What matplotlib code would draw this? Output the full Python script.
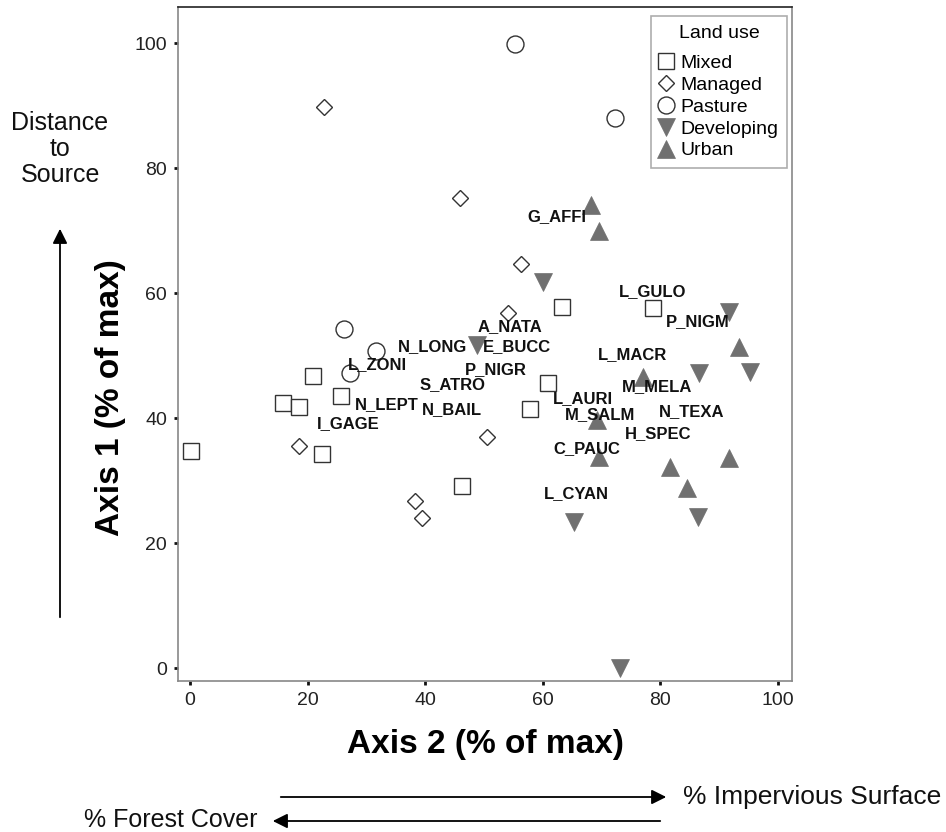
import matplotlib
matplotlib.use("Agg")
import matplotlib.pyplot as plt

plt.rcParams['font.family'] = ['Liberation Sans', 'DejaVu Sans']

# ---- data (Axis 2, Axis 1) ----
mixed_x = [0.2, 15.8, 18.5, 20.9, 25.7, 22.4, 46.3, 57.8, 60.9, 63.3, 78.8]
mixed_y = [34.7, 42.4, 41.8, 46.7, 43.5, 34.2, 29.1, 41.4, 45.6, 57.8, 57.7]

managed_x = [22.8, 45.9, 56.3, 54.1, 50.5, 18.5, 38.3, 39.5]
managed_y = [89.8, 75.2, 64.6, 56.8, 36.9, 35.5, 26.7, 24.0]

pasture_x = [55.3, 72.3, 26.2, 31.6, 27.2]
pasture_y = [99.9, 88.0, 54.2, 50.7, 47.2]

developing_x = [60.0, 48.8, 91.7, 95.2, 86.6, 86.4, 65.3, 73.2]
developing_y = [61.8, 51.7, 57.0, 47.4, 47.2, 24.2, 23.4, 0.0]

urban_x = [68.2, 69.6, 93.3, 77.0, 69.2, 69.6, 81.6, 91.7, 84.5]
urban_y = [74.1, 70.0, 51.4, 46.6, 39.7, 33.8, 32.2, 33.6, 28.8]

species = ["G_AFFI", "L_GULO", "P_NIGM", "A_NATA", "N_LONG", "E_BUCC", "L_MACR",
           "L_ZONI", "P_NIGR", "S_ATRO", "M_MELA", "L_AURI", "N_LEPT", "N_BAIL",
           "N_TEXA", "M_SALM", "I_GAGE", "H_SPEC", "C_PAUC", "L_CYAN"]
species_x = [62.4, 78.7, 86.4, 54.4, 41.2, 55.6, 75.3, 31.8, 52.0, 44.6,
             79.4, 66.8, 33.5, 44.6, 85.4, 69.7, 26.9, 79.6, 67.5, 65.8]
species_y = [72.2, 60.2, 55.4, 54.7, 51.4, 51.5, 50.1, 48.5, 47.8, 45.3,
             45.0, 43.2, 42.1, 41.3, 41.1, 40.6, 39.2, 37.6, 35.2, 28.0]

xticks = [0, 20, 40, 60, 80, 100]
yticks = [0, 20, 40, 60, 80, 100]

W, H = 946, 832
fig = plt.figure(figsize=(W / 100, H / 100), dpi=100)
ax = fig.add_axes([178 / W, 1 - 681 / H, 614 / W, 674 / H])

edge = '#333333'
grey = '#707070'
ax.plot(mixed_x, mixed_y, ls='none', marker='s', ms=12.2, mfc='white', mec=edge, mew=1.0, label='Mixed')
ax.plot(managed_x, managed_y, ls='none', marker='D', ms=8.2, mfc='white', mec=edge, mew=1.0, label='Managed')
ax.plot(pasture_x, pasture_y, ls='none', marker='o', ms=12.2, mfc='white', mec=edge, mew=1.0, label='Pasture')
ax.plot(developing_x, developing_y, ls='none', marker='v', ms=13, mfc=grey, mec=grey, mew=0.5, label='Developing')
ax.plot(urban_x, urban_y, ls='none', marker='^', ms=13, mfc=grey, mec=grey, mew=0.5, label='Urban')

for name, sx, sy in zip(species, species_x, species_y):
    ax.text(sx, sy, name, ha='center', va='center', fontsize=12, fontweight='bold', color='#111111')

ax.set_xlim(-2.04, 102.4)
ax.set_ylim(-2.08, 105.8)
ax.set_xticks(xticks)
ax.set_yticks(yticks)
ax.tick_params(axis='both', length=3, width=2, color='#111111', labelsize=14,
               labelcolor='#222222', pad=5)

for s in ['left', 'bottom', 'right']:
    ax.spines[s].set_color('#888888')
    ax.spines[s].set_linewidth(1.2)
ax.spines['top'].set_color('#222222')
ax.spines['top'].set_linewidth(1.2)

ax.set_xlabel('Axis 2 (% of max)', fontsize=24, fontweight='bold')
ax.xaxis.set_label_coords(0.5, (681 - 745) / 674)
ax.xaxis.label.set_va('center')
ax.set_ylabel('Axis 1 (% of max)', fontsize=24, fontweight='bold')
ax.yaxis.set_label_coords((110 - 178) / 614, (681 - 398) / 674)
ax.yaxis.label.set_va('center')
ax.yaxis.label.set_ha('center')

leg = ax.legend(title='Land use', loc='upper right',
                bbox_to_anchor=(787 / W, 1 - 16 / H), bbox_transform=fig.transFigure,
                fontsize=14, title_fontsize=14, frameon=True, fancybox=False,
                borderaxespad=0, borderpad=0.45, handlelength=0.65, handletextpad=0.4,
                labelspacing=0.22, numpoints=1)
leg._legend_box.sep = 9.0
leg.get_frame().set_edgecolor('#999999')
leg.get_frame().set_linewidth(1.2)

# side annotations
fig.text(60 / W, 1 - 149 / H, 'Distance\nto\nSource', ha='center', va='center',
         fontsize=18, linespacing=1.13, color='#111111')
ax.annotate('', xy=(60, H - 226), xycoords='figure pixels',
            xytext=(60, H - 620), textcoords='figure pixels',
            arrowprops=dict(arrowstyle='-|>', mutation_scale=22, lw=1.3, color='black'))
ax.annotate('', xy=(669, H - 797), xycoords='figure pixels',
            xytext=(278, H - 797), textcoords='figure pixels',
            arrowprops=dict(arrowstyle='-|>', mutation_scale=22, lw=1.3, color='black'))
ax.annotate('', xy=(270, H - 821), xycoords='figure pixels',
            xytext=(663, H - 821), textcoords='figure pixels',
            arrowprops=dict(arrowstyle='-|>', mutation_scale=22, lw=1.3, color='black'))
fig.text(683 / W, 1 - 797 / H, '% Impervious Surface', ha='left', va='center',
         fontsize=19, color='#111111')
fig.text(257 / W, 1 - 820 / H, '% Forest Cover', ha='right', va='center',
         fontsize=18, color='#111111')

fig.savefig('out.png', dpi=100)
